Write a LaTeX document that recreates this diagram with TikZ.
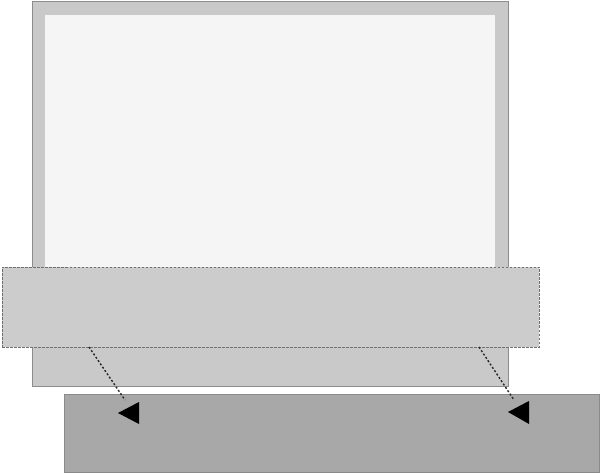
\documentclass[tikz,border=0pt]{standalone}
\usetikzlibrary{calc}
\definecolor{outerfill}{HTML}{C9C9C9}
\definecolor{outerline}{HTML}{8C8C8C}
\definecolor{innerfill}{HTML}{F5F5F5}
\definecolor{bandfill}{HTML}{CCCCCC}
\definecolor{bandline}{HTML}{707070}
\definecolor{basefill}{HTML}{A8A8A8}
\definecolor{baseline}{HTML}{8A8A8A}
\begin{document}
\begin{tikzpicture}[x=1pt,y=-1pt,
  box/.style={rectangle,inner sep=0pt,outer sep=0pt,anchor=north west},
  link/.style={draw=black!85,line width=1.4pt,dash pattern=on 2pt off 2pt},
  tri/.style={fill=black,draw=none}]
\useasboundingbox (0,0) rectangle (600,473);
\node[box,fill=outerfill,draw=outerline,line width=1pt,minimum width=476pt,minimum height=384pt] (outer) at (32,2) {};
\node[box,fill=innerfill,minimum width=450pt,minimum height=260pt] (inner) at (45,15) {};
\node[box,fill=bandfill,draw=bandline,line width=0.8pt,dash pattern=on 2.5pt off 1.5pt,minimum width=537pt,minimum height=80pt] (band) at (2,267) {};
\node[box,fill=basefill,draw=baseline,line width=0.8pt,minimum width=535pt,minimum height=78pt] (base) at (64,394) {};
\coordinate (s1) at ($(band.south west)+(87,0)$);
\coordinate (e1) at (125,400);
\coordinate (s2) at ($(band.south west)+(477,0)$);
\coordinate (e2) at (514,400);
\draw[link] (s1) -- (e1);
\draw[link] (s2) -- (e2);
\fill[tri] (118,413) -- (139,402) -- (139,424) -- cycle;
\fill[tri] (508,412) -- (529,401) -- (529,424) -- cycle;
\end{tikzpicture}
\end{document}
